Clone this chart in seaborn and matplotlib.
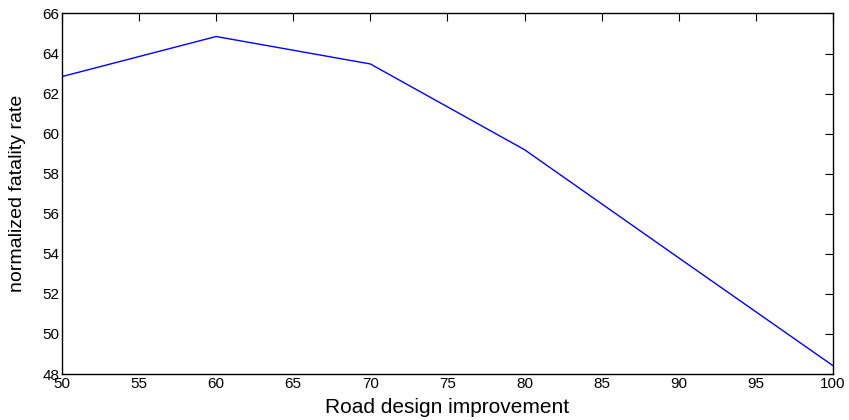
import matplotlib
matplotlib.use("Agg")
import matplotlib.pyplot as plt
import seaborn as sns
import pandas as pd

improvement = [50, 60, 70, 80, 90, 100]
fatality = [62.85, 64.85, 63.48, 59.2, 53.8, 48.42]
xticks = [50, 55, 60, 65, 70, 75, 80, 85, 90, 95, 100]
yticks = [48, 50, 52, 54, 56, 58, 60, 62, 64, 66]

sns.set_style("white")
plt.rcParams['font.family'] = ['Liberation Sans', 'DejaVu Sans']
plt.rcParams['text.color'] = 'black'
plt.rcParams['axes.labelcolor'] = 'black'

df = pd.DataFrame({"x": improvement, "y": fatality})
fig = plt.figure(figsize=(8.49, 4.2), dpi=100)
ax = fig.add_axes([0.073, 0.1095, 0.908, 0.8584])
sns.lineplot(data=df, x="x", y="y", ax=ax, color="#0000ff", linewidth=1.0)
ax.set_xlim(50, 100)
ax.set_ylim(48, 66)
ax.set_xticks(xticks)
ax.set_yticks(yticks)
ax.tick_params(direction="in", top=True, right=True, length=6, width=0.8,
               labelsize=11, colors="black", pad=2)
for s in ax.spines.values():
    s.set_visible(True)
    s.set_color("black")
    s.set_linewidth(1.0)
ax.set_xlabel("Road design improvement", fontsize=15, va="center", color="black")
ax.set_ylabel("normalized fatality rate", fontsize=14, va="center", color="black")
ax.xaxis.set_label_coords(0.5, -0.094)
ax.yaxis.set_label_coords(-0.058, 0.5)
fig.savefig("out.png", dpi=100)
